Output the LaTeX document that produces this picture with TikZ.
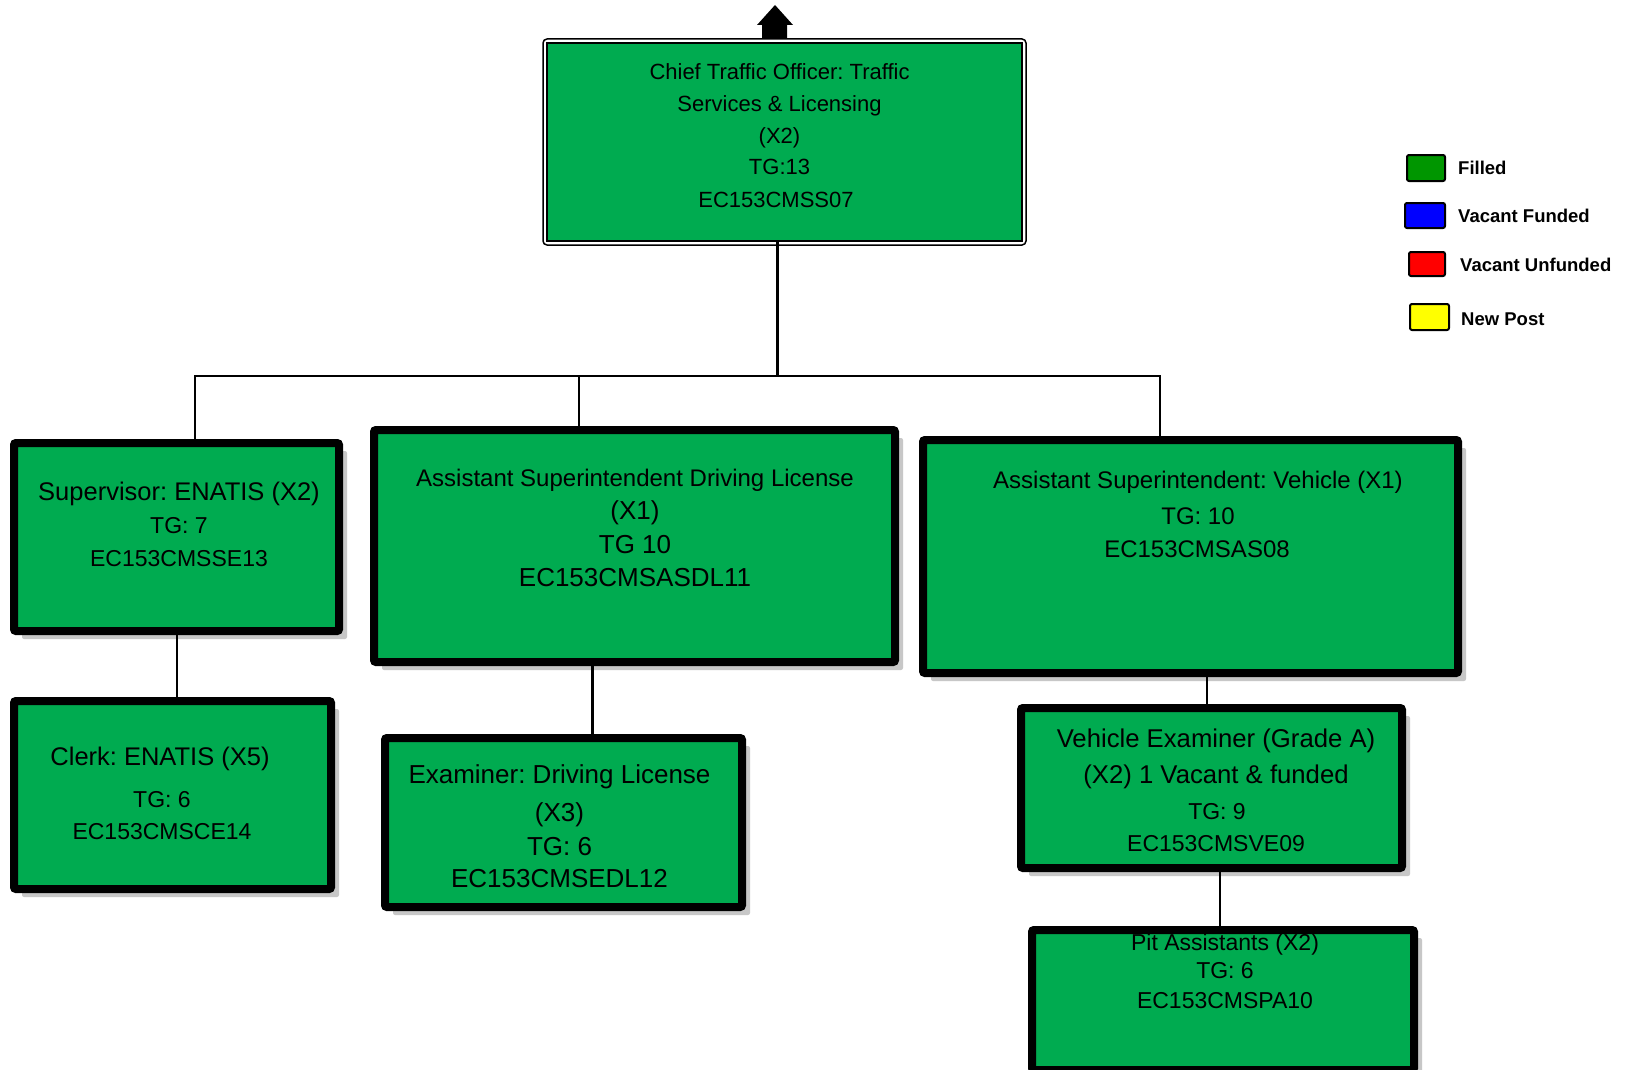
\documentclass[tikz,border=0pt]{standalone}
\usepackage{fontspec}
\setmainfont{Liberation Sans}
\usetikzlibrary{shadows}
\definecolor{boxgreen}{RGB}{0,171,80}
\definecolor{leggreen}{RGB}{0,150,0}
\definecolor{legblue}{RGB}{0,0,255}
\definecolor{legred}{RGB}{255,0,0}
\definecolor{legyellow}{RGB}{255,255,0}
\frenchspacing
\tikzset{
  orgbox/.style={draw=black, line width=8pt, fill=boxgreen, rounded corners=2pt, inner sep=0pt,
    drop shadow={shadow xshift=8pt, shadow yshift=-8pt, fill=black!22, opacity=1}},
  conn/.style={line width=2.5pt, draw=black},
  txt/.style={anchor=base, inner sep=0pt},
  legtxt/.style={anchor=base west, inner sep=0pt, font=\fontsize{18.5}{21}\selectfont\bfseries},
  swatch/.style={draw=black, line width=2pt, rounded corners=2pt, inner sep=0pt},
}
\newcommand\fsz[1]{\fontsize{#1}{#1}\selectfont}
\begin{document}
\begin{tikzpicture}[x=1pt, y=-1pt]
\useasboundingbox (0,0) rectangle (1627,1070);
\fill[white] (0,0) rectangle (1627,1070);
\clip (0,0) rectangle (1627,1070);

% top box
\node (top) [draw=black, line width=1.5pt, rounded corners=4pt, fill=white, inner sep=0pt,
  minimum width=483pt, minimum height=206pt] at (784.5,142) {};
\node (topin) [draw=black, line width=2pt, fill=boxgreen, inner sep=0pt,
  minimum width=475pt, minimum height=198pt] at (top.center) {};
\coordinate (arr) at (775,39);
\fill[black] (arr) ++(-13,0) -- ++(0,-14) -- ++(-5,0) -- ++(18,-20) -- ++(18,20) -- ++(-6,0) -- ++(0,14) -- cycle;

% level 2 boxes
\node (sup)  [orgbox, minimum width=325pt, minimum height=188pt] at (176.5,537) {};
\node (asdl) [orgbox, minimum width=521pt, minimum height=232pt] at (634.5,546) {};
\node (asv)  [orgbox, minimum width=535pt, minimum height=233pt] at (1190.5,556.5) {};
% level 3 boxes
\node (clerk) [orgbox, minimum width=317pt, minimum height=188pt] at (172.5,795) {};
\node (exdl)  [orgbox, minimum width=357pt, minimum height=169pt] at (563.5,822.5) {};
\node (ve)    [orgbox, minimum width=381pt, minimum height=160pt] at (1211.5,788) {};
\node (pit)   [orgbox, minimum width=382pt, minimum height=140pt] at (1223,1000) {};

% connectors
\coordinate (bus) at (777.5,376);
\coordinate (bl) at (195,376);
\coordinate (bm) at (579,376);
\coordinate (br) at (1160,376);
\coordinate (c1) at (177,666);
\coordinate (c2) at (592.5,700);
\coordinate (c3) at (1207,690);
\coordinate (c4) at (1220,900);
\draw[conn] (bus |- topin.south) -- (bus);
\draw[conn] (bl |- sup.north) -- (bl) -- (br) -- (br |- asv.north);
\draw[conn] (bm) -- (bm |- asdl.north);
\draw[conn] (c1 |- sup.south) -- (c1 |- clerk.north);
\draw[conn] (c2 |- asdl.south) -- (c2 |- exdl.north);
\draw[conn] (c3 |- asv.south) -- (c3 |- ve.north);
\draw[conn] (c4 |- ve.south) -- (c4 |- pit.north);

% texts: top
\node (t1) [txt, font=\fsz{22}] at (779.5,80) {Chief Traffic Officer: Traffic};
\node (t2) [txt, font=\fsz{22}] at (779.5,112) {Services \& Licensing};
\node (t3) [txt, font=\fsz{22}] at (779.5,143.5) {(X2)};
\node (t4) [txt, font=\fsz{22}] at (779.5,175) {TG:13};
\node (t5) [txt, font=\fsz{22}] at (776,207) {EC153CMSS07};
% supervisor
\node (s1) [txt, font=\fsz{25.5}] at (179,500) {Supervisor: ENATIS (X2)};
\node (s2) [txt, font=\fsz{23}] at (179,533) {TG: 7};
\node (s3) [txt, font=\fsz{23}] at (179,566) {EC153CMSSE13};
% clerk
\node (k1) [txt, font=\fsz{25.5}] at (160,765) {Clerk: ENATIS (X5)};
\node (k2) [txt, font=\fsz{23}] at (162,807) {TG: 6};
\node (k3) [txt, font=\fsz{23}] at (162,839) {EC153CMSCE14};
% asst supt DL
\node (a1) [txt, font=\fsz{24}] at (635,486) {Assistant Superintendent Driving License};
\node (a2) [txt, font=\fsz{26}] at (635,519) {(X1)};
\node (a3) [txt, font=\fsz{26}] at (635,553) {TG 10};
\node (a4) [txt, font=\fsz{26}] at (635,586) {EC153CMSASDL11};
% asst supt vehicle
\node (v1) [txt, font=\fsz{24}] at (1198,488) {Assistant Superintendent: Vehicle (X1)};
\node (v2) [txt, font=\fsz{24}] at (1198,524) {TG: 10};
\node (v3) [txt, font=\fsz{24}] at (1197,557) {EC153CMSAS08};
% examiner DL
\node (e1) [txt, font=\fsz{26}] at (559.5,783) {Examiner: Driving License};
\node (e2) [txt, font=\fsz{26}] at (559.5,821) {(X3)};
\node (e3) [txt, font=\fsz{26}] at (559.5,855) {TG: 6};
\node (e4) [txt, font=\fsz{26}] at (559.5,887) {EC153CMSEDL12};
% vehicle examiner
\node (x1) [txt, font=\fsz{25.7}] at (1216,747) {Vehicle Examiner (Grade A)};
\node (x2) [txt, font=\fsz{25.7}] at (1216,783) {(X2) 1 Vacant \& funded};
\node (x3) [txt, font=\fsz{23}] at (1217,819) {TG: 9};
\node (x4) [txt, font=\fsz{23}] at (1216,851) {EC153CMSVE09};
% pit assistants
\node (p1) [txt, font=\fsz{23}] at (1225,950) {Pit Assistants (X2)};
\node (p2) [txt, font=\fsz{23}] at (1225,978) {TG: 6};
\node (p3) [txt, font=\fsz{23}] at (1225,1008) {EC153CMSPA10};

% legend
\node (lg1) [swatch, fill=leggreen, minimum width=38pt, minimum height=26pt] at (1426,168) {};
\node (lg2) [swatch, fill=legblue, minimum width=40pt, minimum height=25pt] at (1425,215.5) {};
\node (lg3) [swatch, fill=legred, minimum width=36pt, minimum height=24pt] at (1427,264) {};
\node (lg4) [swatch, fill=legyellow, minimum width=39pt, minimum height=26pt] at (1429.5,317) {};
\node (lt1) [legtxt] at (1458,174) {Filled};
\node (lt2) [legtxt] at (1458,222) {Vacant Funded};
\node (lt3) [legtxt] at (1460,271) {Vacant Unfunded};
\node (lt4) [legtxt] at (1461,325) {New Post};
\end{tikzpicture}
\end{document}
